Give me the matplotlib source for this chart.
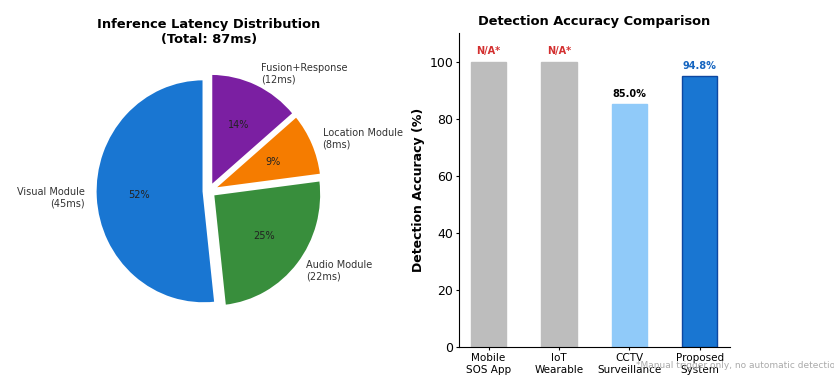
import matplotlib
matplotlib.use('Agg')
from matplotlib import pyplot as plt

# latency breakdown (ms)
modules = ['Visual Module', 'Audio Module', 'Location Module', 'Fusion+Response']
latency_ms = [45, 22, 8, 12]
pie_colors = ['#1976D2', '#388E3C', '#F57C00', '#7B1FA2']

# detection accuracy (%)
systems = ['Mobile\nSOS App', 'IoT\nWearable', 'CCTV\nSurveillance', 'Proposed\nSystem']
accuracy = [100, 100, 85.0, 94.8]
acc_labels = ['N/A*', 'N/A*', '85.0%', '94.8%']
label_colors = ['#D32F2F', '#D32F2F', 'black', '#1565C0']
bar_colors = ['#BDBDBD', '#BDBDBD', '#90CAF9', '#1976D2']
bar_edges = ['#BDBDBD', '#BDBDBD', '#90CAF9', '#0D47A1']

fig = plt.figure(figsize=(8.34, 3.76), dpi=100)

# Pie
ax1 = fig.add_axes([0.0887, 0.1197, 0.3237, 0.7447])
pie_labels = [f'{m}\n({v}ms)' for m, v in zip(modules, latency_ms)]
wedges, texts, autotexts = ax1.pie(latency_ms, labels=pie_labels, colors=pie_colors,
                                   autopct='%1.0f%%', startangle=90,
                                   explode=[0.05] * len(latency_ms),
                                   wedgeprops={'edgecolor': 'white', 'linewidth': 1.5},
                                   textprops={'fontsize': 7, 'color': '#333333'})
for t in autotexts:
    t.set_color('#222222')
    t.set_fontsize(7)
ax1.set_aspect('auto')
ax1.set_xlim(-1.25, 1.25)
ax1.set_ylim(-1.25, 1.25)
ax1.set_title('Inference Latency Distribution\n(Total: 87ms)', fontsize=9.4,
              fontweight='bold', pad=5.5)

# Bars
ax2 = fig.add_axes([0.55, 0.077, 0.325, 0.835])
x = range(len(systems))
bars = ax2.bar(x, accuracy, width=0.5, color=bar_colors, edgecolor=bar_edges, linewidth=1)
for b, lab, c in zip(bars, acc_labels, label_colors):
    ax2.text(b.get_x() + b.get_width() / 2, b.get_height() + 2, lab, ha='center',
             va='bottom', fontsize=7, fontweight='bold', color=c)
ax2.set_xticks(list(x))
ax2.set_xticklabels(systems, fontsize=7.5)
ax2.set_ylim(0, 110)
ax2.tick_params(axis='y', labelsize=9, length=2.5, pad=1.5)
ax2.tick_params(axis='x', length=2.5, pad=2)
ax2.set_ylabel('Detection Accuracy (%)', fontsize=9, fontweight='bold', labelpad=3)
ax2.set_title('Detection Accuracy Comparison', fontsize=9.4, fontweight='bold')
ax2.spines['top'].set_visible(False)
ax2.spines['right'].set_visible(False)

fig.text(0.763, 0.027, '*Manual trigger only, no automatic detection', fontsize=6.5,
         color='#aaaaaa', ha='left', va='center')

fig.savefig('out.png', dpi=100)
